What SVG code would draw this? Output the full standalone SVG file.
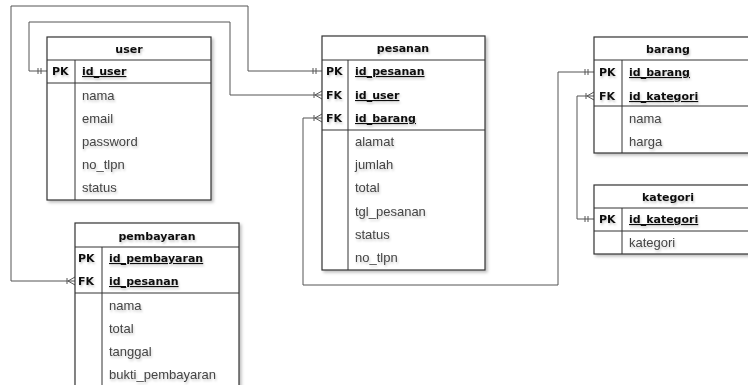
<svg xmlns="http://www.w3.org/2000/svg" width="748" height="385" viewBox="0 0 748 385">
<defs>
<filter id="sh" x="-10%" y="-10%" width="130%" height="130%">
<feDropShadow dx="2" dy="2" stdDeviation="1.5" flood-color="#000" flood-opacity="0.25"/>
</filter>
<filter id="tsh" x="-10%" y="-30%" width="130%" height="180%">
<feDropShadow dx="1" dy="2" stdDeviation="1" flood-color="#000" flood-opacity="0.2"/>
</filter>
</defs>
<style>
.box{fill:#fff;stroke:#333;stroke-width:1.2}
.ln{stroke:#333;stroke-width:1;fill:none}
.hd{font-family:"DejaVu Sans",Verdana,sans-serif;font-weight:bold;font-size:11px;fill:#111;text-anchor:middle}
.k{font-family:"DejaVu Sans",Verdana,sans-serif;font-weight:bold;font-size:11px;fill:#111}
.id{font-family:"DejaVu Sans",Verdana,sans-serif;font-weight:bold;font-size:11px;fill:#111;text-decoration:underline}
.at{font-family:"Liberation Sans",Arial,sans-serif;font-size:13px;fill:#444}
.c{stroke:#555;stroke-width:1;fill:none}
text{filter:url(#tsh)}
</style>
<rect width="748" height="385" fill="#fff"/>
<g id="connectors">
<path class="c" d="M322,71 H248 V6 H11 V281 H75"/>
<path class="c" d="M47,71 H29 V22 H230 V95 H322"/>
<path class="c" d="M594,72 H558 V285 H303 V118 H322"/>
<path class="c" d="M594,219 H577 V96 H594"/>
<path class="c" d="M313,68 V74 M316,68 V74"/>
<path class="c" d="M38,68 V74 M41,68 V74"/>
<path class="c" d="M585,69 V75 M588,69 V75"/>
<path class="c" d="M585,216 V222 M588,216 V222"/>
<path class="c" d="M314,92 V98 M322,91 L315,95 L322,99"/>
<path class="c" d="M314,115 V121 M322,114 L315,118 L322,122"/>
<path class="c" d="M67,278 V284 M75,277 L68,281 L75,285"/>
<path class="c" d="M586,93 V99 M594,92 L587,96 L594,100"/>
</g>
<g id="user" filter="url(#sh)">
<rect class="box" x="47" y="37" width="164" height="163"/>
<path class="ln" d="M47,60 H211 M47,83 H211 M75,60 V200"/>
<text class="hd" x="129" y="53">user</text>
<text class="k" x="52" y="75">PK</text>
<text class="id" x="82" y="75">id_user</text>
<text class="at" x="82" y="100">nama</text>
<text class="at" x="82" y="123">email</text>
<text class="at" x="82" y="146">password</text>
<text class="at" x="82" y="169">no_tlpn</text>
<text class="at" x="82" y="192">status</text>
</g>
<g id="pesanan" filter="url(#sh)">
<rect class="box" x="322" y="36" width="163" height="234"/>
<path class="ln" d="M322,60 H485 M322,130 H485 M348,60 V270"/>
<text class="hd" x="403" y="52">pesanan</text>
<text class="k" x="326" y="75">PK</text>
<text class="id" x="355" y="75">id_pesanan</text>
<text class="k" x="326" y="99">FK</text>
<text class="id" x="355" y="99">id_user</text>
<text class="k" x="326" y="122">FK</text>
<text class="id" x="355" y="122">id_barang</text>
<text class="at" x="355" y="146">alamat</text>
<text class="at" x="355" y="169">jumlah</text>
<text class="at" x="355" y="192">total</text>
<text class="at" x="355" y="216">tgl_pesanan</text>
<text class="at" x="355" y="239">status</text>
<text class="at" x="355" y="262">no_tlpn</text>
</g>
<g id="barang" filter="url(#sh)">
<rect class="box" x="594" y="37" width="164" height="116"/>
<path class="ln" d="M594,60 H758 M594,106 H758 M622,60 V153"/>
<text class="hd" x="668" y="53">barang</text>
<text class="k" x="599" y="76">PK</text>
<text class="id" x="629" y="76">id_barang</text>
<text class="k" x="599" y="100">FK</text>
<text class="id" x="629" y="100">id_kategori</text>
<text class="at" x="629" y="123">nama</text>
<text class="at" x="629" y="146">harga</text>
</g>
<g id="kategori" filter="url(#sh)">
<rect class="box" x="594" y="185" width="164" height="69"/>
<path class="ln" d="M594,208 H758 M594,231 H758 M622,208 V254"/>
<text class="hd" x="668" y="201">kategori</text>
<text class="k" x="599" y="223">PK</text>
<text class="id" x="629" y="223">id_kategori</text>
<text class="at" x="629" y="247">kategori</text>
</g>
<g id="pembayaran" filter="url(#sh)">
<rect class="box" x="75" y="223" width="164" height="170"/>
<path class="ln" d="M75,247 H239 M75,293 H239 M102,247 V393"/>
<text class="hd" x="157" y="240">pembayaran</text>
<text class="k" x="78" y="262">PK</text>
<text class="id" x="109" y="262">id_pembayaran</text>
<text class="k" x="78" y="285">FK</text>
<text class="id" x="109" y="285">id_pesanan</text>
<text class="at" x="109" y="310">nama</text>
<text class="at" x="109" y="333">total</text>
<text class="at" x="109" y="356">tanggal</text>
<text class="at" x="109" y="379">bukti_pembayaran</text>
</g>
</svg>
